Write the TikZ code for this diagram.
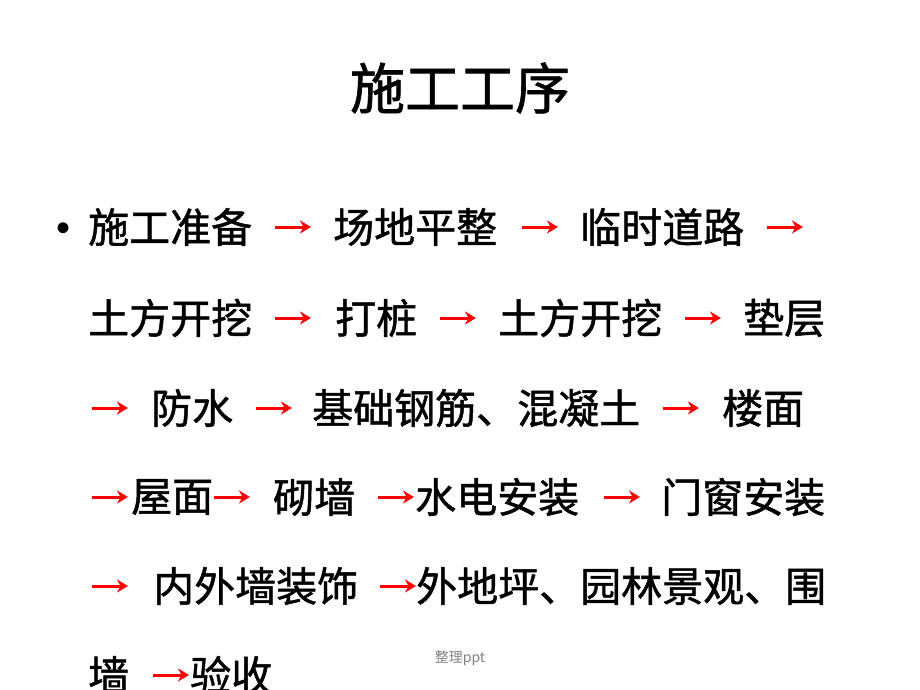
\documentclass[tikz,border=0pt]{standalone}
\usepackage{fontspec}
\setmainfont{Noto Sans CJK SC}
\newfontfamily\bodyfont[FakeBold=1.2]{Noto Sans CJK SC}
\newfontfamily\bulletfont{Liberation Sans}
\usetikzlibrary{arrows.meta}

\tikzset{
  word/.style={anchor=west, inner sep=0pt, font=\bodyfont\fontsize{41}{41}\selectfont},
  redarrow/.style={draw=red, line width=3pt, -{Stealth[length=11pt,width=13pt]}}
}

\begin{document}
\begin{tikzpicture}[x=1pt,y=-1pt]
  \useasboundingbox (0,0) rectangle (920,690);
  \node[inner sep=0pt, font=\bodyfont\fontsize{55}{55}\selectfont] (title) at (460,88) {施工工序};
  \node[inner sep=0pt, font=\bulletfont\fontsize{40}{40}\selectfont] (dot) at (64,232) {•};
  % line 1
  \node[word] (w11) at (88,227) {施工准备};
  \node[word] (w12) at (333,227) {场地平整};
  \node[word] (w13) at (580,227) {临时道路};
  % line 2
  \node[word] (w21) at (88,318) {土方开挖};
  \node[word] (w22) at (335,318) {打桩};
  \node[word] (w23) at (498,318) {土方开挖};
  \node[word] (w24) at (743,318) {垫层};
  % line 3
  \node[word] (w31) at (151,408) {防水};
  \node[word] (w32) at (312,408) {基础钢筋、混凝土};
  \node[word] (w33) at (722,408) {楼面};
  % line 4
  \node[word] (w41) at (131,497) {屋面};
  \node[word] (w42) at (273,497) {砌墙};
  \node[word] (w43) at (415,497) {水电安装};
  \node[word] (w44) at (661,497) {门窗安装};
  % line 5
  \node[word] (w51) at (153,586) {内外墙装饰};
  \node[word] (w52) at (416,586) {外地坪、园林景观、围};
  % line 6
  \node[word] (w61) at (88,675) {墙};
  \node[word] (w62) at (190,675) {验收};
  % arrows
  \foreach \n/\x/\y in {1/275/227, 2/522/227, 3/767/227,
                        4/275/318, 5/440/318, 6/685/318,
                        7/92/408, 8/256/408, 9/663/408,
                        10/92/497, 11/214/497, 12/378/497, 13/604/497,
                        14/92/586, 15/380/586,
                        16/153/675}
  {
    \coordinate (a\n) at (\x,\y);
    \coordinate (b\n) at (\x+36,\y);
    \draw[redarrow] (a\n) -- (b\n);
  }
  \node[inner sep=0pt, text=gray, font=\fontsize{14}{14}\selectfont] (note) at (460,658) {整理ppt};
\end{tikzpicture}
\end{document}
